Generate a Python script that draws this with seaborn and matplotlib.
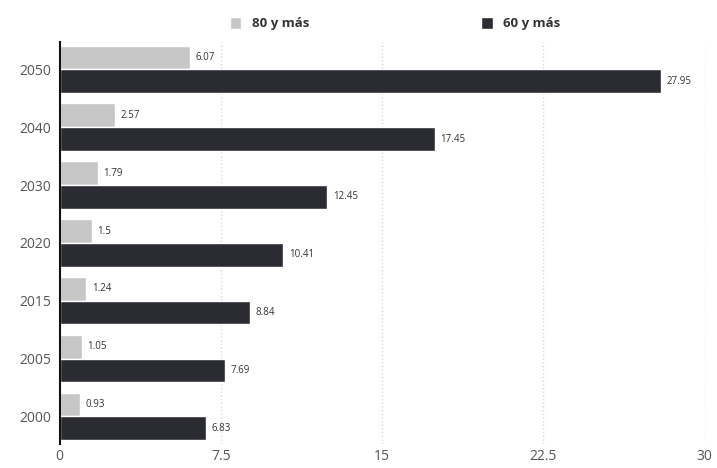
import numpy as np
import pandas as pd
import matplotlib
matplotlib.use('Agg')
import matplotlib.pyplot as plt
import seaborn as sns

## Data
years       = ['2050', '2040', '2030', '2020', '2015', '2005', '2000']
serie_80    = [6.07, 2.57, 1.79, 1.5, 1.24, 1.05, 0.93]
serie_60    = [27.95, 17.45, 12.45, 10.41, 8.84, 7.69, 6.83]
labels_80   = ['6.07', '2.57', '1.79', '1.5', '1.24', '1.05', '0.93']
labels_60   = ['27.95', '17.45', '12.45', '10.41', '8.84', '7.69', '6.83']
series      = ['80 y más', '60 y más']
colors      = ['#c6c6c6', '#2b2b33']
xticks      = [0, 7.5, 15, 22.5, 30]
xticklabels = ['0', '7.5', '15', '22.5', '30']

df = pd.DataFrame({
    'year': years * 2,
    'value': serie_80 + serie_60,
    'serie': [series[0]] * len(years) + [series[1]] * len(years),
})

sns.set_style('white')
plt.rcParams['font.family'] = ['Open Sans', 'DejaVu Sans']

## Figure
fig = plt.figure(figsize=(7.17, 4.68), dpi=100)
ax = fig.add_axes([0.083, 0.052, 0.900, 0.858])

sns.barplot(data=df, x='value', y='year', hue='serie', order=years,
            hue_order=series, palette=colors, orient='h', width=0.82,
            saturation=1, ax=ax, legend=True)

for cont, labs in zip(ax.containers, [labels_80, labels_60]):
    ax.bar_label(cont, labels=labs, padding=4, fontsize=7, color='#333333')

## Customization
ax.set_xlim(0, 30)
ax.set_ylim(6.47, -0.47)
ax.set_xticks(xticks)
ax.set_xticklabels(xticklabels, fontsize=10, color='#555555')
ax.tick_params(axis='y', labelsize=10, labelcolor='#555555', length=0, pad=6)
ax.tick_params(axis='x', length=0, pad=4)
ax.set_xlabel('')
ax.set_ylabel('')
ax.grid(axis='x', color='#d8d8d8', linestyle=':', linewidth=1)
ax.set_axisbelow(True)
for sp in ['top', 'right', 'bottom']:
    ax.spines[sp].set_visible(False)
ax.spines['left'].set_color('#111111')
ax.spines['left'].set_linewidth(1.5)

leg = ax.legend(loc='lower center', bbox_to_anchor=(0.52, 1.0), ncol=2, frameon=False,
                fontsize=9.5, handlelength=0.9, handleheight=1.0, columnspacing=13,
                handletextpad=0.8)
for t in leg.get_texts():
    t.set_fontweight('bold')
    t.set_color('#333333')

fig.savefig('out.png', dpi=100)
